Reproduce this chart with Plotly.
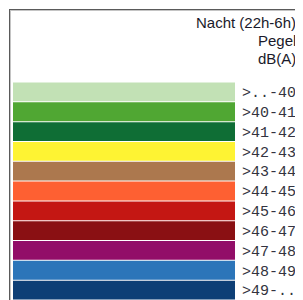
import plotly.graph_objects as go

# Data
labels = [">..-40", ">40-41", ">41-42", ">42-43", ">43-44", ">44-45",
          ">45-46", ">46-47", ">47-48", ">48-49", ">49-.."]
values = [1] * len(labels)
colors = ["#c2e1b5", "#50a733", "#0f6e35", "#fef333", "#ac784e", "#fe6032",
          "#c41713", "#8a1013", "#920e68", "#2c75b9", "#0d3f76"]
title_lines = ["Nacht (22h-6h)", "Pegel", "dB(A)"]

# page body has an 8px margin; figure origin is at page (8, 8)
O = 8
W, H = 303 - O, 300 - O
L, T = 2, 2                     # plot area = frame area
PW, PH = W - L, H - T


def px_x(x):  # page px -> paper
    return (x - O - L) / PW


def px_y(y):
    return (H - (y - O)) / PH


fig = go.Figure(go.Bar(
    y=labels, x=values, orientation="h",
    marker=dict(color=colors, line=dict(width=0)),
    hoverinfo="skip", xaxis="x", yaxis="y",
))
# empty traces so the frame subplots get created
fig.add_trace(go.Scatter(x=[None], y=[None], xaxis="x2", yaxis="y2", hoverinfo="skip", mode="lines"))
fig.add_trace(go.Scatter(x=[None], y=[None], xaxis="x3", yaxis="y3", hoverinfo="skip", mode="lines"))

noax = dict(showgrid=False, zeroline=False, showticklabels=False, ticks="", fixedrange=True)

fig.update_layout(
    width=W, height=H,
    margin=dict(l=L, r=0, t=T, b=0, pad=0),
    paper_bgcolor="white", plot_bgcolor="rgba(0,0,0,0)",
    bargap=0.05,
    showlegend=False,
    xaxis=dict(range=[0, 1], visible=False, fixedrange=True,
               domain=[px_x(13), px_x(235)]),
    yaxis=dict(
        autorange="reversed", side="right", showgrid=False, zeroline=False,
        showline=False, ticks="", ticklabelstandoff=6, fixedrange=True,
        domain=[0, px_y(82)],
        tickfont=dict(family="Liberation Mono, Courier New, monospace", size=15, color="#333340"),
    ),
    # outer dark frame line
    xaxis2=dict(noax, domain=[0, 1], anchor="y2", side="top", showline=True,
                linecolor="#5a5a5a", linewidth=1, range=[0, 1]),
    yaxis2=dict(noax, domain=[0, 1], anchor="x2", side="left", showline=True,
                linecolor="#5a5a5a", linewidth=1, range=[0, 1]),
    # inner light frame line
    xaxis3=dict(noax, domain=[1 / PW, 1], anchor="y3", side="top", showline=True,
                linecolor="#c4c4c4", linewidth=1, range=[0, 1]),
    yaxis3=dict(noax, domain=[0, 1 - 1 / PH], anchor="x3", side="left", showline=True,
                linecolor="#c4c4c4", linewidth=1, range=[0, 1]),
)

for i, t in enumerate(title_lines):
    fig.add_annotation(text=t, xref="paper", yref="paper",
                       x=px_x(297.5), y=px_y(22.5 + 18 * i),
                       xanchor="right", yanchor="middle", showarrow=False,
                       font=dict(family="Liberation Sans, Arial, sans-serif", size=15, color="#1a1a2a"))

fig.write_html("out.html")
